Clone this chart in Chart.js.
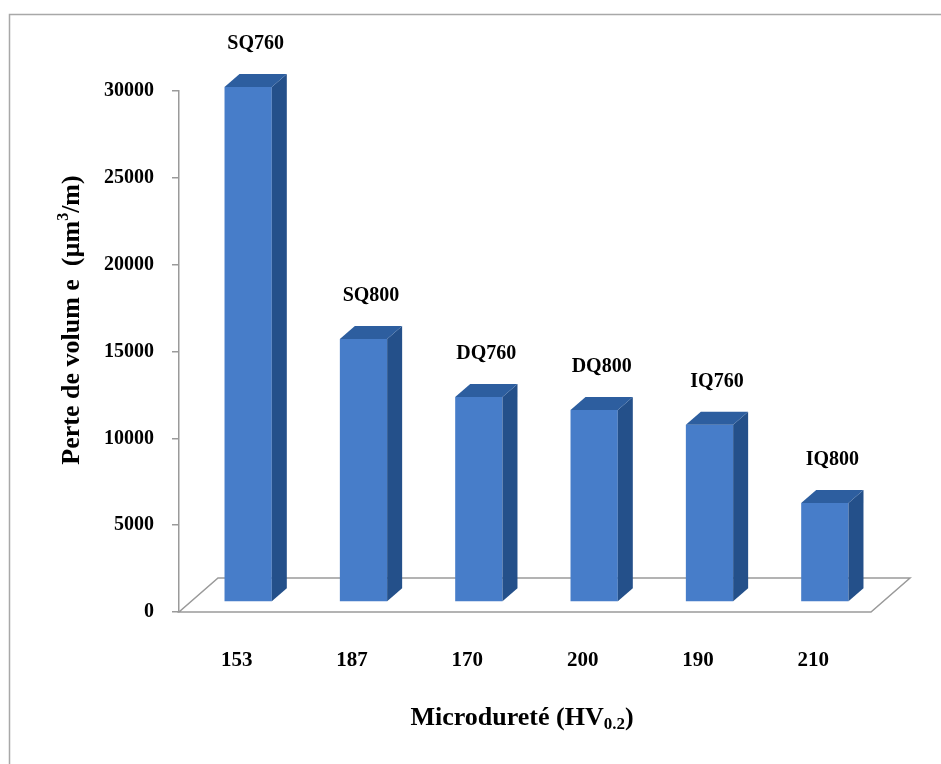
<!DOCTYPE html>
<html lang="fr">
<head>
  <meta charset="UTF-8">
  <title>Perte de volume</title>
  <script src="https://cdn.jsdelivr.net/npm/chart.js"></script>
  <style>
    body { margin: 0; background: #fff; }
    #chart { display: block; }
  </style>
</head>
<body>

<canvas id="chart" width="941" height="764"></canvas>

<script>
// données
const microdurete = ['153', '187', '170', '200', '190', '210'];
const echantillons = ['SQ760', 'SQ800', 'DQ760', 'DQ800', 'IQ760', 'IQ800'];
const perteVolume = [29650, 15150, 11800, 11050, 10200, 5700];
const graduations = [0, 5000, 10000, 15000, 20000, 25000, 30000];

const serif = "'Liberation Serif', 'Times New Roman', serif";
const gris = '#9a9a9a';

// effet 3D : épaisseur des barres, recul des barres sur le sol, profondeur du sol
const ep = { dx: 15, dy: 13 };
const recul = { dx: 11.5, dy: 10 };
const sol = { dx: 39, dy: 34 };

const effet3D = {
  id: 'effet3D',
  beforeDraw(chart) {
    const ctx = chart.ctx;
    ctx.save();
    ctx.strokeStyle = '#a8a8a8';
    ctx.lineWidth = 1.5;
    ctx.beginPath();
    ctx.moveTo(9.5, 764);
    ctx.lineTo(9.5, 14.5);
    ctx.lineTo(941, 14.5);
    ctx.stroke();
    ctx.restore();
  },
  beforeDatasetsDraw(chart) {
    const ctx = chart.ctx;
    const a = chart.chartArea;
    ctx.save();
    ctx.strokeStyle = gris;
    ctx.lineWidth = 1.5;
    ctx.beginPath();
    ctx.moveTo(a.left, a.bottom);
    ctx.lineTo(a.right, a.bottom);
    ctx.lineTo(a.right + sol.dx, a.bottom - sol.dy);
    ctx.lineTo(a.left + sol.dx, a.bottom - sol.dy);
    ctx.closePath();
    ctx.stroke();
    ctx.restore();
    ctx.save();
    ctx.translate(recul.dx, -recul.dy);
  },
  afterDatasetsDraw(chart) {
    const ctx = chart.ctx;
    const meta = chart.getDatasetMeta(0);
    meta.data.forEach((bar, i) => {
      const p = bar.getProps(['x', 'y', 'base', 'width'], true);
      const g = p.x - p.width / 2, d = p.x + p.width / 2;
      // face latérale
      ctx.fillStyle = '#24508a';
      ctx.beginPath();
      ctx.moveTo(d, p.y);
      ctx.lineTo(d + ep.dx, p.y - ep.dy);
      ctx.lineTo(d + ep.dx, p.base - ep.dy);
      ctx.lineTo(d, p.base);
      ctx.closePath();
      ctx.fill();
      // dessus
      ctx.fillStyle = '#2d5e9f';
      ctx.beginPath();
      ctx.moveTo(g, p.y);
      ctx.lineTo(d, p.y);
      ctx.lineTo(d + ep.dx, p.y - ep.dy);
      ctx.lineTo(g + ep.dx, p.y - ep.dy);
      ctx.closePath();
      ctx.fill();
      // nom de l'échantillon
      ctx.fillStyle = '#000';
      ctx.font = 'bold 20px ' + serif;
      ctx.textAlign = 'center';
      ctx.textBaseline = 'middle';
      ctx.fillText(echantillons[i], p.x + ep.dx / 2, p.y - ep.dy - 30);
    });
    ctx.restore();
  },
  afterDraw(chart) {
    const ctx = chart.ctx;
    ctx.save();
    ctx.fillStyle = '#000';
    ctx.textBaseline = 'middle';
    ctx.textAlign = 'left';

    // titre axe Y (avec exposant)
    const gros = 'bold 26px ' + serif, petit = 'bold 16px ' + serif;
    const yParts = [['Perte de volum e  (µm', gros, 0], ['3', petit, -8], ['/m)', gros, 0]];
    ctx.translate(72, 320);
    ctx.rotate(-Math.PI / 2);
    let w = 0;
    yParts.forEach(([t, f]) => { ctx.font = f; w += ctx.measureText(t).width; });
    let x = -w / 2;
    yParts.forEach(([t, f, dy]) => { ctx.font = f; ctx.fillText(t, x, dy); x += ctx.measureText(t).width; });
    ctx.setTransform(1, 0, 0, 1, 0, 0);

    // titre axe X (avec indice)
    const xParts = [['Microdureté (HV', gros, 0], ['0.2', 'bold 17px ' + serif, 7], [')', gros, 0]];
    w = 0;
    xParts.forEach(([t, f]) => { ctx.font = f; w += ctx.measureText(t).width; });
    x = 522 - w / 2;
    xParts.forEach(([t, f, dy]) => { ctx.font = f; ctx.fillText(t, x, 718 + dy); x += ctx.measureText(t).width; });
    ctx.restore();
  }
};

new Chart(document.getElementById('chart'), {
  type: 'bar',
  data: {
    labels: microdurete,
    datasets: [{
      data: perteVolume,
      backgroundColor: '#477dc9',
      borderWidth: 0,
      barPercentage: 0.41,
      categoryPercentage: 1,
      clip: false
    }]
  },
  options: {
    responsive: false,
    animation: false,
    layout: { padding: { left: 0, top: 91, right: 70, bottom: 0 } },
    plugins: { legend: { display: false }, tooltip: { enabled: false } },
    scales: {
      x: {
        grid: { display: false, drawTicks: false },
        border: { display: false },
        ticks: { color: '#000', font: { family: serif, size: 21, weight: 'bold' }, padding: 36 },
        afterFit(s) { s.height = 152; }
      },
      y: {
        min: 0,
        max: 30000,
        afterBuildTicks(s) { s.ticks = graduations.map(v => ({ value: v })); },
        grid: { drawOnChartArea: false, drawTicks: true, tickLength: 7, color: gris, lineWidth: 1.5 },
        border: { color: gris, width: 1.5 },
        ticks: {
          color: '#000',
          font: { family: serif, size: 20, weight: 'bold' },
          padding: 18,
          callback: v => String(v)
        },
        afterFit(s) { s.width = 179; }
      }
    }
  },
  plugins: [effet3D]
});
</script>

</body>
</html>
